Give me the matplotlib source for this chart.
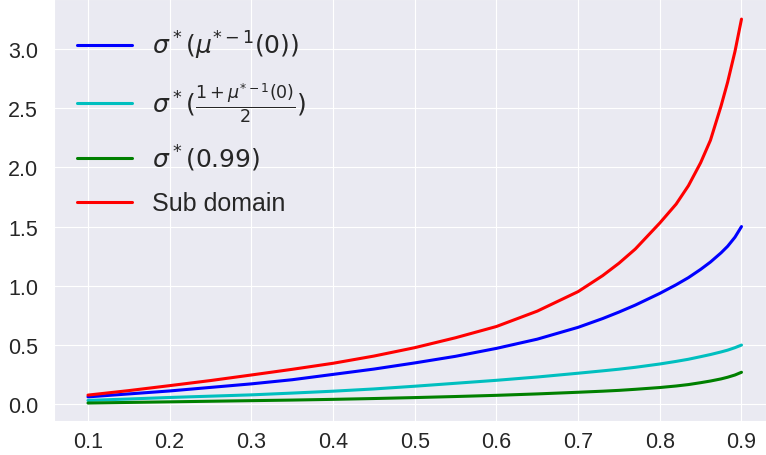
import numpy as np
import matplotlib
matplotlib.use("Agg")
import matplotlib.pyplot as plt
import seaborn as sns

# values
x = [0.10, 0.15, 0.20, 0.25, 0.30, 0.35, 0.40, 0.45, 0.50, 0.55, 0.60, 0.65,
     0.70, 0.73, 0.75, 0.77, 0.80, 0.82, 0.835, 0.85, 0.862, 0.875,
     0.883, 0.892, 0.90]

sigma_mu0 = [0.060, 0.085, 0.110, 0.140, 0.170, 0.205, 0.250, 0.295, 0.347,
             0.403, 0.470, 0.548, 0.648, 0.722, 0.777, 0.836, 0.935, 1.008,
             1.068, 1.138, 1.200, 1.278, 1.333, 1.410, 1.500]

sigma_half = [0.030, 0.042, 0.055, 0.066, 0.077, 0.092, 0.108, 0.127, 0.150,
              0.175, 0.200, 0.228, 0.260, 0.280, 0.294, 0.310, 0.338, 0.360,
              0.378, 0.400, 0.418, 0.440, 0.455, 0.476, 0.498]

sigma_099 = [0.008, 0.013, 0.018, 0.023, 0.028, 0.033, 0.039, 0.046, 0.054,
             0.063, 0.073, 0.085, 0.099, 0.108, 0.115, 0.124, 0.139, 0.152,
             0.164, 0.180, 0.194, 0.212, 0.226, 0.245, 0.268]

sub_domain = [0.075, 0.113, 0.155, 0.198, 0.245, 0.293, 0.344, 0.405, 0.476,
              0.560, 0.655, 0.785, 0.950, 1.085, 1.190, 1.310, 1.530, 1.690,
              1.845, 2.040, 2.230, 2.520, 2.720, 2.980, 3.254]

xticks = [0.1, 0.2, 0.3, 0.4, 0.5, 0.6, 0.7, 0.8, 0.9]
yticks = [0.0, 0.5, 1.0, 1.5, 2.0, 2.5, 3.0]

sns.set_style("darkgrid")
plt.rcParams['font.family'] = ['Liberation Sans', 'DejaVu Sans']

fig = plt.figure(figsize=(7.66, 4.56), dpi=100)
ax = fig.add_axes([54 / 766, 34 / 456, 712 / 766, 422 / 456])

lw = 2.2
ax.plot(x, sigma_mu0, color='b', lw=lw, label=r'$\sigma^*(\mu^{*-1}(0))$')
ax.plot(x, sigma_half, color='c', lw=lw, label=r'$\sigma^*(\frac{1+\mu^{*-1}(0)}{2})$')
ax.plot(x, sigma_099, color='g', lw=lw, label=r'$\sigma^*(0.99)$')
ax.plot(x, sub_domain, color='r', lw=lw, label='Sub domain')

ax.set_xlim(0.0584, 0.930)
ax.set_ylim(-0.144, 3.424)
ax.set_xticks(xticks)
ax.set_yticks(yticks)
ax.set_xticklabels([f'{t:.1f}' for t in xticks])
ax.set_yticklabels([f'{t:.1f}' for t in yticks])
ax.tick_params(labelsize=15.5, colors='#262626')
ax.tick_params(axis='y', pad=8)
ax.tick_params(axis='x', pad=4)

ax.legend(loc='upper left', bbox_to_anchor=(0.018, 0.953), borderaxespad=0,
          fontsize=18, frameon=False, handlelength=2.2, labelspacing=0.75)

fig.savefig('out.png', dpi=100)
